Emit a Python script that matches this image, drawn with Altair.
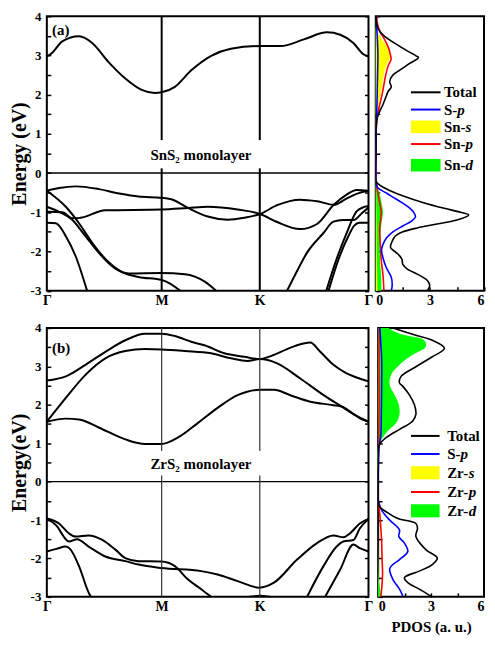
import altair as alt
import pandas as pd

FONT = "Liberation Serif"

# ---------------- axis ticks / labels ----------------
K_TICKS = [0.0, 0.357, 0.662, 1.0]
K_NAMES = ["Γ", "M", "K", "Γ"]
E_TICKS = [-3.0, -2.5, -2.0, -1.5, -1.0, -0.5, 0.0, 0.5, 1.0, 1.5, 2.0, 2.5, 3.0, 3.5, 4.0]
DOS_TICKS = [0.0, 1.5, 3.0, 4.5, 6.0]

# ---------------- SnS2 bands (k fraction along path, energy eV) ----------------
SN_C1_K = [0, 0.017, 0.048, 0.100, 0.141, 0.192, 0.244, 0.295, 0.336, 0.357, 0.398, 0.449, 0.511, 0.572, 0.663, 0.727, 0.799, 0.871, 0.912, 0.953, 0.984, 1.0]
SN_C1_E = [2.97, 3.07, 3.36, 3.49, 3.32, 2.83, 2.41, 2.12, 2.04, 2.06, 2.20, 2.62, 2.99, 3.17, 3.24, 3.24, 3.41, 3.59, 3.53, 3.32, 3.03, 2.97]
SN_A_K = [0, 0.038, 0.090, 0.162, 0.224, 0.285, 0.357, 0.387, 0.439, 0.500, 0.562, 0.614, 0.663, 0.716, 0.787, 0.840, 0.892, 0.930, 0.963, 1.0]
SN_A_E = [-0.45, -0.38, -0.34, -0.41, -0.52, -0.60, -0.63, -0.67, -0.89, -1.11, -1.19, -1.14, -1.045, -0.82, -0.68, -0.72, -0.81, -0.66, -0.53, -0.45]
SN_D_K = [0, 0.048, 0.079, 0.097, 0.182, 0.357, 0.439, 0.500, 0.593, 0.663, 0.716, 0.787, 0.840, 0.892, 0.932, 0.963, 1.0]
SN_D_E = [-0.99, -1.00, -1.15, -1.15, -0.95, -0.93, -0.89, -0.86, -0.93, -1.045, -1.25, -1.43, -1.30, -0.81, -0.55, -0.43, -0.45]
SN_B_K = [0, 0.059, 0.100, 0.141, 0.182, 0.233, 0.285, 0.357, 0.383, 0.414]
SN_B_E = [-0.45, -0.86, -1.28, -1.78, -2.19, -2.52, -2.65, -2.73, -2.82, -3.0]
SN_E_K = [0, 0.038, 0.079, 0.120, 0.161, 0.213, 0.254, 0.357, 0.429, 0.491, 0.526]
SN_E_E = [-0.86, -0.99, -1.19, -1.61, -2.03, -2.44, -2.56, -2.55, -2.58, -2.77, -3.0]
SN_F_K = [0, 0.028, 0.059, 0.089, 0.125]
SN_F_E = [-1.27, -1.28, -1.61, -2.11, -3.0]
SN_H_K = [0.747, 0.778, 0.809, 0.860, 0.891, 0.920, 0.953, 0.980, 1.0]
SN_H_E = [-3.0, -2.5, -2.03, -1.53, -1.24, -1.20, -1.20, -1.02, -0.88]
SN_I_K = [0.869, 0.901, 0.932, 0.963, 0.985, 1.0]
SN_I_E = [-3.0, -2.19, -1.53, -0.98, -0.87, -0.85]
SN_J_K = [0.876, 0.907, 0.938, 0.955, 0.972, 1.0]
SN_J_E = [-3.0, -2.2, -1.6, -1.35, -1.27, -1.27]

# ---------------- ZrS2 bands ----------------
ZR_C1_K = [0, 0.059, 0.120, 0.182, 0.244, 0.305, 0.357, 0.398, 0.449, 0.490, 0.552, 0.614, 0.662, 0.700, 0.747, 0.778, 0.819, 0.850, 0.891, 0.925, 0.963, 1.0]
ZR_C1_E = [2.63, 2.74, 3.04, 3.38, 3.68, 3.85, 3.85, 3.79, 3.64, 3.55, 3.34, 3.25, 3.19, 3.28, 3.45, 3.55, 3.62, 3.38, 3.04, 2.85, 2.71, 2.61]
ZR_C2_K = [0, 0.059, 0.120, 0.182, 0.244, 0.305, 0.357, 0.429, 0.511, 0.572, 0.624, 0.662, 0.716, 0.787, 0.859, 0.910, 0.963, 1.0]
ZR_C2_E = [1.56, 2.18, 2.78, 3.21, 3.40, 3.45, 3.44, 3.40, 3.34, 3.21, 3.14, 3.19, 3.08, 2.69, 2.26, 1.99, 1.71, 1.56]
ZR_C3_K = [0, 0.059, 0.100, 0.161, 0.244, 0.305, 0.357, 0.408, 0.470, 0.531, 0.593, 0.662, 0.706, 0.757, 0.819, 0.891, 0.922, 0.950, 0.975, 1.0]
ZR_C3_E = [1.56, 1.64, 1.62, 1.41, 1.10, 0.98, 0.98, 1.15, 1.53, 1.92, 2.25, 2.39, 2.39, 2.25, 2.08, 1.99, 1.94, 1.78, 1.64, 1.56]
ZR_V1_K = [0, 0.038, 0.069, 0.089, 0.130, 0.171, 0.213, 0.244, 0.285, 0.356, 0.398, 0.439, 0.480, 0.511]
ZR_V1_E = [-0.96, -1.09, -1.35, -1.43, -1.40, -1.51, -1.77, -1.99, -2.07, -2.08, -2.20, -2.55, -2.80, -3.0]
ZR_V2_K = [0, 0.028, 0.069, 0.094, 0.130, 0.182, 0.244, 0.285, 0.356, 0.480, 0.531, 0.593, 0.660, 0.706, 0.778, 0.840, 0.891, 0.922, 0.942, 0.973, 1.0]
ZR_V2_E = [-0.96, -1.13, -1.56, -1.50, -1.69, -1.95, -2.07, -2.16, -2.25, -2.33, -2.42, -2.59, -2.76, -2.63, -2.03, -1.60, -1.40, -1.45, -1.35, -1.09, -0.97]
ZR_V3_K = [0, 0.030, 0.059, 0.072, 0.100, 0.130, 0.137]
ZR_V3_E = [-1.82, -1.75, -1.69, -1.75, -2.20, -2.89, -3.0]
ZR_V4_K = [0.809, 0.860, 0.901, 0.922, 0.953, 0.973, 1.0]
ZR_V4_E = [-3.0, -2.20, -1.69, -1.56, -1.52, -1.22, -0.97]
ZR_V5_K = [0.865, 0.912, 0.953, 0.973, 1.0]
ZR_V5_E = [-3.0, -2.29, -1.64, -1.73, -1.82]
ZR_V6_K = [0.630, 0.662, 0.694]
ZR_V6_E = [-3.0, -2.97, -3.0]

# ---------------- SnS2 PDOS (energy, states) ----------------
SN_TOT_E = [4.0, 3.80, 3.61, 3.49, 3.24, 2.99, 2.95, 2.79, 2.62, 2.50, 2.33, 2.20, 2.08, 1.96, 1.75, 1.58, 1.42, 1.20, 0.50, -0.22, -0.33, -0.45, -0.60, -0.75, -0.90, -1.00, -1.07, -1.20, -1.30, -1.40, -1.50, -1.60, -1.75, -1.90, -2.00, -2.10, -2.20, -2.33, -2.45, -2.58, -2.74, -2.87, -3.0]
SN_TOT_V = [0.02, 0.05, 0.22, 0.49, 1.31, 2.23, 2.37, 1.86, 1.31, 0.95, 0.77, 0.86, 0.68, 0.58, 0.40, 0.22, 0.09, 0.02, 0.0, 0.02, 0.30, 0.80, 1.60, 2.60, 3.80, 4.70, 5.15, 4.50, 3.40, 2.30, 1.50, 1.10, 0.90, 0.82, 1.05, 1.30, 1.45, 1.50, 1.75, 2.30, 2.86, 2.99, 2.86]
SN_SP_E = [4.0, 3.5, 3.0, 2.5, 2.0, 1.5, 1.0, 0.0, -0.25, -0.37, -0.50, -0.60, -0.74, -0.90, -1.00, -1.12, -1.22, -1.35, -1.50, -1.65, -1.80, -1.95, -2.16, -2.41, -2.66, -2.87, -3.0]
SN_SP_V = [0.02, 0.08, 0.12, 0.10, 0.08, 0.05, 0.02, 0.0, 0.02, 0.10, 0.55, 0.90, 1.40, 1.90, 2.10, 2.20, 2.00, 1.50, 0.95, 0.60, 0.42, 0.32, 0.40, 0.58, 0.86, 0.91, 0.86]
SN_MS_E = [4.0, 3.80, 3.66, 3.49, 3.32, 3.16, 2.99, 2.91, 2.74, 2.50, 2.25, 2.00, 1.75, 1.58, 1.45, 1.0, 0.0, -0.5, -1.0, -1.5, -2.0, -2.5, -3.0]
SN_MS_V = [0.0, 0.0, 0.02, 0.22, 0.49, 0.68, 0.80, 0.77, 0.58, 0.44, 0.36, 0.26, 0.15, 0.05, 0.0, 0.0, 0.0, 0.02, 0.04, 0.05, 0.06, 0.08, 0.10]
SN_MP_E = [4.0, 3.8, 3.6, 3.4, 3.2, 3.0, 2.9, 2.75, 2.5, 2.25, 2.0, 1.75, 1.5, 1.3, 1.0, 0.0, -0.3, -0.6, -1.0, -1.4, -1.8, -2.2, -2.6, -3.0]
SN_MP_V = [0.05, 0.1, 0.25, 0.5, 0.7, 0.82, 0.85, 0.7, 0.55, 0.45, 0.35, 0.22, 0.1, 0.05, 0.02, 0.0, 0.05, 0.15, 0.3, 0.22, 0.25, 0.3, 0.4, 0.45]
SN_MD_E = [4.0, 3.0, 2.0, 1.0, 0.0, -0.35, -0.50, -0.74, -1.00, -1.24, -1.57, -2.00, -2.41, -2.74, -3.0]
SN_MD_V = [0.0, 0.05, 0.03, 0.0, 0.0, 0.02, 0.20, 0.31, 0.40, 0.33, 0.25, 0.22, 0.26, 0.31, 0.31]

# ---------------- ZrS2 PDOS ----------------
ZR_TOT_E = [4.0, 3.81, 3.68, 3.47, 3.25, 2.99, 2.74, 2.57, 2.48, 2.26, 2.01, 1.75, 1.58, 1.36, 1.15, 0.98, 0.89, 0.0, -0.57, -0.66, -0.79, -0.96, -1.09, -1.21, -1.43, -1.77, -1.99, -2.16, -2.33, -2.50, -2.63, -2.80, -2.98]
ZR_TOT_V = [0.84, 2.14, 3.07, 3.76, 3.07, 2.14, 1.30, 1.21, 1.40, 1.77, 2.05, 2.14, 1.96, 1.21, 0.47, 0.09, 0.02, 0.0, 0.02, 0.09, 0.47, 1.12, 2.14, 2.23, 2.14, 2.70, 3.35, 3.07, 2.33, 1.49, 1.68, 2.33, 2.98]
ZR_SP_E = [4.0, 3.6, 3.2, 2.5, 1.8, 1.2, 0.9, 0.0, -0.5, -0.57, -0.74, -1.00, -1.26, -1.43, -1.60, -1.82, -2.03, -2.20, -2.29, -2.55, -2.80, -2.98]
ZR_SP_V = [0.10, 0.15, 0.20, 0.20, 0.18, 0.15, 0.05, 0.0, 0.0, 0.05, 0.19, 0.65, 1.21, 1.17, 1.49, 1.68, 1.21, 0.74, 0.65, 0.84, 1.21, 1.40]
ZR_MS_E = [4.0, 0.0, -2.0, -3.0]
ZR_MS_V = [0.0, 0.0, 0.01, 0.02]
ZR_MP_E = [4.0, 3.0, 2.0, 1.0, 0.0, -0.6, -0.8, -1.2, -1.6, -2.0, -2.4, -2.8, -3.0]
ZR_MP_V = [0.05, 0.05, 0.05, 0.03, 0.0, 0.02, 0.08, 0.15, 0.20, 0.22, 0.25, 0.20, 0.15]
ZR_MD_E = [4.0, 3.85, 3.68, 3.51, 3.30, 3.04, 2.78, 2.52, 2.26, 2.01, 1.75, 1.53, 1.28, 1.02, 0.93, 0.0, -2.6, -2.8, -3.0]
ZR_MD_V = [0.60, 1.21, 2.61, 2.70, 1.96, 1.21, 0.74, 0.65, 0.93, 1.17, 1.21, 1.02, 0.47, 0.09, 0.0, 0.0, 0.05, 0.12, 0.15]

# ---------------- legends ----------------
LEG_TOP = ["Total", "S-p", "Sn-s", "Sn-p", "Sn-d"]
LEG_BOT = ["Total", "S-p", "Zr-s", "Zr-p", "Zr-d"]
LEG_KIND = ["line", "line", "rect", "line", "rect"]
LEG_COLOR = ["#000000", "#0000ff", "#ffff00", "#ff0000", "#00ff00"]

# ---------------- helpers ----------------
mids = [(K_TICKS[i] + K_TICKS[i + 1]) / 2 for i in range(3)]
K_EXPR = (f"datum.value < {mids[0]} ? '{K_NAMES[0]}' : datum.value < {mids[1]} ? '{K_NAMES[1]}' : "
          f"datum.value < {mids[2]} ? '{K_NAMES[2]}' : '{K_NAMES[3]}'")
E_EXPR = "datum.value % 1 == 0 ? '' + datum.value : ''"
D_EXPR = "datum.value % 3 == 0 ? '' + datum.value : ''"
ADV = {"S": 0.556, "n": 0.556, "Z": 0.667, "r": 0.444, "-": 0.333}
LEG_FS = 15


def long_df(series, xname="x"):
    rows = []
    for name, xs, es in series:
        for x, e in zip(xs, es):
            rows.append({"s": name, xname: x, "e": e})
    return pd.DataFrame(rows)


def band_panel(bands, seg, tag, tag_e, name, name_e, w, h, ytitle, vw, vc, zw):
    df = long_df(bands)
    xs = alt.Scale(domain=[0, 1], nice=False, zero=False)
    ys = alt.Scale(domain=[-3, 4], nice=False, zero=False)
    xax = alt.Axis(values=K_TICKS, labelExpr=K_EXPR, ticks=False, domain=False, grid=False,
                   labelFlush=False, labelPadding=3, labelFont=FONT, labelFontSize=14,
                   labelFontWeight="bold", labelColor="black", title=None)
    yax = alt.Axis(values=E_TICKS, labelExpr=E_EXPR, tickSize=4, offset=-4, tickColor="black",
                   tickWidth=1.5, domain=False, grid=False, labelPadding=6, labelFont=FONT,
                   labelFontSize=13, labelFontWeight="bold", labelColor="black", title=ytitle,
                   titleFont=FONT, titleFontSize=20, titleFontWeight="bold", titleColor="black",
                   titlePadding=1)
    X = alt.X("x:Q", scale=xs, axis=xax)
    Y = alt.Y("e:Q", scale=ys, axis=yax)
    lines = alt.Chart(df).mark_line(color="black", strokeWidth=2, interpolate="monotone",
                                    clip=True).encode(x=X, y=Y, detail="s:N")
    zero = alt.Chart(pd.DataFrame({"e": [0.0]})).mark_rule(color="black", strokeWidth=zw).encode(y=Y)
    rows = []
    for kx in K_TICKS[1:3]:
        rows.append({"x": kx, "e": -3.0, "e2": seg[0]})
        rows.append({"x": kx, "e": seg[1], "e2": 4.0})
    vlines = alt.Chart(pd.DataFrame(rows)).mark_rule(color=vc, strokeWidth=vw).encode(
        x=X, y=Y, y2="e2:Q")
    tagm = alt.Chart(pd.DataFrame({"x": [0.016], "e": [tag_e], "t": [tag]})).mark_text(
        align="left", baseline="middle", font=FONT, fontSize=15, fontWeight="bold",
        color="black").encode(x=X, y=Y, text="t:N")
    namem = alt.Chart(pd.DataFrame({"x": [0.479], "e": [name_e], "t": [name]})).mark_text(
        align="center", baseline="alphabetic", font=FONT, fontSize=15, fontWeight="bold",
        color="black").encode(x=X, y=Y, text="t:N")
    rax = alt.Axis(orient="right", values=E_TICKS, labels=False, tickSize=4, offset=-4,
                   tickColor="black", tickWidth=1.5, domain=False, grid=False, title=None)
    right = alt.Chart(df).mark_point(opacity=0, size=1).encode(
        x=X, y=alt.Y("e:Q", scale=ys, axis=rax))
    main = alt.layer(lines, zero, vlines, tagm, namem)
    return alt.layer(main, right).resolve_scale(y="independent").properties(width=w, height=h)


def pdos_panel(areas, lines, names, leg_e, sx0, sx1, tx, rh, w, h, xtitle):
    xs = alt.Scale(domain=[0, 6], nice=False, zero=False)
    ys = alt.Scale(domain=[-3, 4], nice=False, zero=False)
    xkw = dict(values=DOS_TICKS, labelExpr=D_EXPR, tickSize=4, offset=-4, tickColor="black",
               tickWidth=1.5, domain=False, grid=False, labelFlush=True, labelPadding=3,
               labelFont=FONT, labelFontSize=14, labelFontWeight="bold", labelColor="black")
    if xtitle:
        xax = alt.Axis(title=xtitle, titleFont=FONT, titleFontSize=15, titleFontWeight="bold",
                       titleColor="black", titlePadding=6, **xkw)
    else:
        xax = alt.Axis(title=None, **xkw)
    yax = alt.Axis(values=E_TICKS, labels=False, tickSize=4, offset=-4, tickColor="black",
                   tickWidth=1.5, domain=False, grid=False, title=None)
    X = alt.X("v:Q", scale=xs, axis=xax)
    Y = alt.Y("e:Q", scale=ys, axis=yax)
    layers = []
    for color, es, vs in areas:
        d = pd.DataFrame({"v": vs, "e": es})
        layers.append(alt.Chart(d).mark_area(orient="horizontal", fill=color, opacity=1,
                                             interpolate="catmull-rom").encode(
            x=alt.X("v:Q", scale=xs, axis=xax, stack=None), x2=alt.datum(0), y=Y))
    for color, es, vs in lines:
        d = pd.DataFrame({"v": vs, "e": es})
        layers.append(alt.Chart(d).mark_line(color=color, strokeWidth=1.6,
                                             interpolate="catmull-rom", clip=True).encode(
            x=X, y=Y, order="e:Q"))
    # legend
    for nm, kind, col, e in zip(names, LEG_KIND, LEG_COLOR, leg_e):
        if kind == "line":
            d = pd.DataFrame({"v": [sx0], "v2": [sx1], "e": [e]})
            layers.append(alt.Chart(d).mark_rule(strokeWidth=2, color=col).encode(
                x=X, x2="v2:Q", y=Y))
        else:
            d = pd.DataFrame({"v": [sx0], "v2": [sx1], "e": [e - rh], "e2": [e + rh]})
            layers.append(alt.Chart(d).mark_rect(fill=col, opacity=1).encode(
                x=X, x2="v2:Q", y=Y, y2="e2:Q"))
        if "-" in nm:
            i = nm.index("-") + 1
            pre, suf = nm[:i], nm[i:]
        else:
            pre, suf = nm, ""
        d = pd.DataFrame({"v": [tx], "e": [e], "pre": [pre], "suf": [suf]})
        layers.append(alt.Chart(d).mark_text(align="left", baseline="middle", font=FONT,
                                             fontSize=LEG_FS, fontWeight="bold",
                                             color="black").encode(x=X, y=Y, text="pre:N"))
        if suf:
            dx = sum(ADV.get(ch, 0.5) for ch in pre) * LEG_FS
            layers.append(alt.Chart(d).mark_text(
                align="left", baseline="middle", font=FONT, fontSize=LEG_FS, fontWeight="bold",
                fontStyle="italic", color="black", dx=dx).encode(x=X, y=Y, text="suf:N"))
    return alt.layer(*layers).properties(width=w, height=h)


sn_bands = [("c1", SN_C1_K, SN_C1_E), ("a", SN_A_K, SN_A_E), ("d", SN_D_K, SN_D_E),
            ("b", SN_B_K, SN_B_E), ("e", SN_E_K, SN_E_E), ("f", SN_F_K, SN_F_E),
            ("h", SN_H_K, SN_H_E), ("i", SN_I_K, SN_I_E), ("j", SN_J_K, SN_J_E)]
zr_bands = [("c1", ZR_C1_K, ZR_C1_E), ("c2", ZR_C2_K, ZR_C2_E), ("c3", ZR_C3_K, ZR_C3_E),
            ("v1", ZR_V1_K, ZR_V1_E), ("v2", ZR_V2_K, ZR_V2_E), ("v3", ZR_V3_K, ZR_V3_E),
            ("v4", ZR_V4_K, ZR_V4_E), ("v5", ZR_V5_K, ZR_V5_E), ("v6", ZR_V6_K, ZR_V6_E)]

H_TOP, H_BOT = 275.5, 270.0
band_a = band_panel(sn_bands, (0.12, 0.84), "(a)", 3.64, "SnS₂ monolayer", 0.34,
                    323.0, H_TOP, "Energy (eV)", 2, "black", 1.5)
band_b = band_panel(zr_bands, (0.16, 0.80), "(b)", 3.49, "ZrS₂ monolayer", 0.33,
                    323.0, H_BOT, "Energy(eV)", 1.2, "#333333", 1.2)

pdos_a = pdos_panel(
    [("#00ff00", SN_MD_E, SN_MD_V), ("#ffff00", SN_MS_E, SN_MS_V)],
    [("#ff0000", SN_MP_E, SN_MP_V), ("#0000ff", SN_SP_E, SN_SP_V), ("#000000", SN_TOT_E, SN_TOT_V)],
    LEG_TOP, [2.06, 1.62, 1.18, 0.74, 0.20], 1.95, 3.59, 3.78, 0.16, 108.7, H_TOP, None)
pdos_b = pdos_panel(
    [("#00ff00", ZR_MD_E, ZR_MD_V), ("#ffff00", ZR_MS_E, ZR_MS_V)],
    [("#ff0000", ZR_MP_E, ZR_MP_V), ("#0000ff", ZR_SP_E, ZR_SP_V), ("#000000", ZR_TOT_E, ZR_TOT_V)],
    LEG_BOT, [1.19, 0.72, 0.23, -0.27, -0.76], 1.86, 3.48, 3.91, 0.17, 106.3, H_BOT, "PDOS (a. u.)")

top = alt.hconcat(band_a, pdos_a, spacing=7.3, bounds="flush")
bot = alt.hconcat(band_b, pdos_b, spacing=9.7, bounds="flush")
chart = alt.vconcat(top, bot, spacing=12).configure_view(
    stroke="black", strokeWidth=2).properties(
    padding={"left": 0, "top": 0, "right": 0, "bottom": 0})

chart.save("out.html", embed_options={"renderer": "svg", "actions": False})
